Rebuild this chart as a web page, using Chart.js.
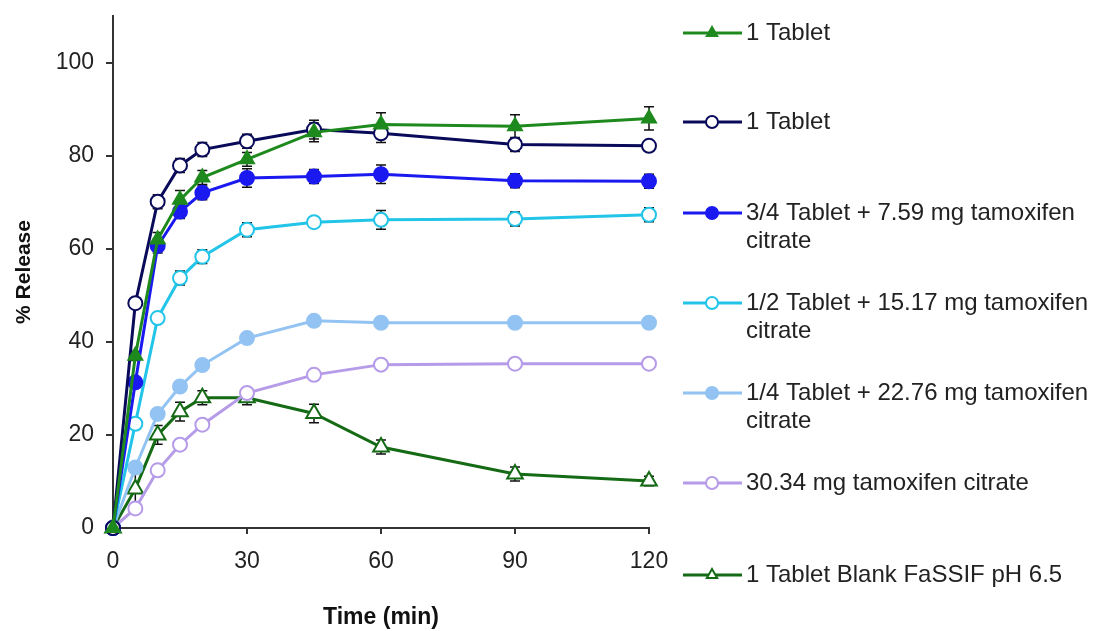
<!DOCTYPE html>
<html>
<head>
<meta charset="utf-8">
<script src="https://cdn.jsdelivr.net/npm/chart.js@4.4.0/dist/chart.umd.min.js"></script>
<style>
body{margin:0;background:#fff}
#holder{width:1099px;height:631px}
</style>
</head>
<body>
<div id="holder"><canvas id="release"></canvas></div>
<script>
let times = [0, 5, 10, 15, 20, 30, 45, 60, 90, 120]
let yTicks = [0, 20, 40, 60, 80, 100]

let seriesLabels = [
    ["1 Tablet"],
    ["1 Tablet"],
    ["3/4 Tablet + 7.59 mg tamoxifen", "citrate"],
    ["1/2 Tablet + 15.17 mg tamoxifen", "citrate"],
    ["1/4 Tablet + 22.76 mg tamoxifen", "citrate"],
    ["30.34 mg tamoxifen citrate"],
    ["1 Tablet Blank FaSSIF pH 6.5"]
]

let tabletGreen = [0, 37, 62, 70.5, 75.3, 79.2, 85, 86.7, 86.3, 88]
let tabletNavy = [0, 48.3, 70.1, 77.9, 81.3, 83.1, 85.6, 84.8, 82.4, 82.1]
let threeQuarter = [0, 31.3, 60.6, 68, 72, 75.2, 75.5, 76, 74.6, 74.5]
let half = [0, 22.4, 45.1, 53.7, 58.3, 64.1, 65.7, 66.2, 66.4, 67.3]
let quarter = [0, 13, 24.5, 30.4, 35, 40.8, 44.5, 44.1, 44.1, 44.1]
let citrateOnly = [0, 4.2, 12.4, 17.9, 22.2, 29, 32.9, 35.1, 35.3, 35.3]
let blank = [0, 8.4, 20, 25, 28, 28, 24.6, 17.4, 11.6, 10.1]

let errGreen = [0, 1, 1.5, 2, 1.5, 1.5, 2, 2.5, 2.5, 2.5]
let errNavy = [0, 1, 1.5, 1.5, 1.5, 1.5, 2, 2, 1.5, 1]
let errThreeQuarter = [0, 1, 1.5, 1.5, 1.5, 2, 1.5, 2, 1.5, 1.5]
let errHalf = [0, 1, 1, 1.5, 1.5, 1.5, 1, 2, 1.5, 1.5]
let errQuarter = [0, 1, 1, 1, 1, 1, 1, 1, 1, 1]
let errCitrate = [0, 1, 1, 1, 1, 1, 1, 1, 1, 1]
let errBlank = [0, 3.5, 2, 2, 1.5, 1.5, 2, 1.5, 1.5, 1]

let legendRows = [33, 122, 213, 303, 393, 483, 575]

function makeSet(i, values, errors, color, fill, style, radius){
    return {
        label: seriesLabels[i].join(" "),
        data: values.map(function(v, j){ return {x: times[j], y: v} }),
        errors: errors,
        borderColor: color,
        backgroundColor: fill,
        borderWidth: 3,
        pointStyle: style,
        pointRadius: radius,
        pointBorderColor: color,
        pointBackgroundColor: fill,
        pointBorderWidth: 2,
        tension: 0,
        clip: false
    }
}

let datasets = [
    makeSet(0, tabletGreen, errGreen, "#1e8a1e", "#1e8a1e", "triangle", 8),
    makeSet(1, tabletNavy, errNavy, "#0a0a5a", "#ffffff", "circle", 7),
    makeSet(2, threeQuarter, errThreeQuarter, "#1a1af0", "#1a1af0", "circle", 7),
    makeSet(3, half, errHalf, "#22c4e8", "#ffffff", "circle", 7),
    makeSet(4, quarter, errQuarter, "#93c3f2", "#93c3f2", "circle", 7),
    makeSet(5, citrateOnly, errCitrate, "#b59be8", "#ffffff", "circle", 7),
    makeSet(6, blank, errBlank, "#156b15", "#ffffff", "triangle", 9)
]

let errorBars = {
    id: "errorBars",
    beforeDatasetsDraw(chart){
        let ctx = chart.ctx
        let y = chart.scales.y
        ctx.save()
        ctx.strokeStyle = "#111"
        ctx.lineWidth = 1.5
        chart.data.datasets.forEach(function(ds, i){
            let meta = chart.getDatasetMeta(i)
            meta.data.forEach(function(pt, j){
                let e = ds.errors[j]
                if (!e) return
                let top = y.getPixelForValue(ds.data[j].y + e)
                let bot = y.getPixelForValue(ds.data[j].y - e)
                ctx.beginPath()
                ctx.moveTo(pt.x, top); ctx.lineTo(pt.x, bot)
                ctx.moveTo(pt.x - 5, top); ctx.lineTo(pt.x + 5, top)
                ctx.moveTo(pt.x - 5, bot); ctx.lineTo(pt.x + 5, bot)
                ctx.stroke()
            })
        })
        ctx.restore()
    }
}

let sideLegend = {
    id: "sideLegend",
    afterDraw(chart){
        let ctx = chart.ctx
        ctx.save()
        chart.data.datasets.forEach(function(ds, i){
            let yy = legendRows[i]
            ctx.strokeStyle = ds.borderColor
            ctx.lineWidth = 3
            ctx.beginPath()
            ctx.moveTo(683, yy); ctx.lineTo(742, yy)
            ctx.stroke()
            ctx.fillStyle = ds.pointBackgroundColor
            ctx.strokeStyle = ds.pointBorderColor
            ctx.lineWidth = 2
            Chart.helpers.drawPoint(ctx, {pointStyle: ds.pointStyle, radius: 6, rotation: 0, borderWidth: 2}, 712, yy)
            ctx.fillStyle = "#222"
            ctx.font = "24px 'Liberation Sans', Arial, sans-serif"
            ctx.textBaseline = "middle"
            seriesLabels[i].forEach(function(line, k){
                ctx.fillText(line, 746, yy + k * 28)
            })
        })
        ctx.restore()
    }
}

let tickFont = {family: "'Liberation Sans', Arial, sans-serif", size: 23}
let titleFont = {family: "'Liberation Sans', Arial, sans-serif", size: 23, weight: "bold"}

let chart = new Chart(
    document.querySelector("#release"),
    {
        type: "line",
        data: {datasets: datasets},
        plugins: [errorBars, sideLegend],
        options: {
            responsive: true,
            maintainAspectRatio: false,
            animation: false,
            layout: {padding: {top: 16, right: 450, left: 0, bottom: 0}},
            plugins: {legend: {display: false}, tooltip: {enabled: false}},
            scales: {
                x: {
                    type: "linear",
                    min: 0,
                    max: 120,
                    ticks: {stepSize: 30, font: tickFont, color: "#222", padding: 14},
                    grid: {drawOnChartArea: false, tickLength: 6, color: "#333", lineWidth: 2},
                    border: {color: "#333", width: 2},
                    title: {display: true, text: "Time (min)", font: titleFont, color: "#111", padding: {top: 0, bottom: 0}},
                    afterFit: function(scale){
                        scale.height = 103
                        scale.paddingLeft = 0
                        scale.paddingRight = 0
                    }
                },
                y: {
                    min: 0,
                    max: 110,
                    afterBuildTicks: function(scale){
                        scale.ticks = yTicks.map(function(v){ return {value: v} })
                    },
                    ticks: {font: tickFont, color: "#222", padding: 12},
                    grid: {drawOnChartArea: false, tickLength: 7, color: "#333", lineWidth: 2},
                    border: {color: "#333", width: 2},
                    title: {display: true, text: "% Release", font: {family: "'Liberation Sans', Arial, sans-serif", size: 21, weight: "bold"}, color: "#111", padding: {top: 12, bottom: 0}},
                    afterFit: function(scale){
                        scale.width = 113
                        scale.paddingTop = 0
                        scale.paddingBottom = 0
                    }
                }
            }
        }
    }
)
</script>
</body>
</html>
